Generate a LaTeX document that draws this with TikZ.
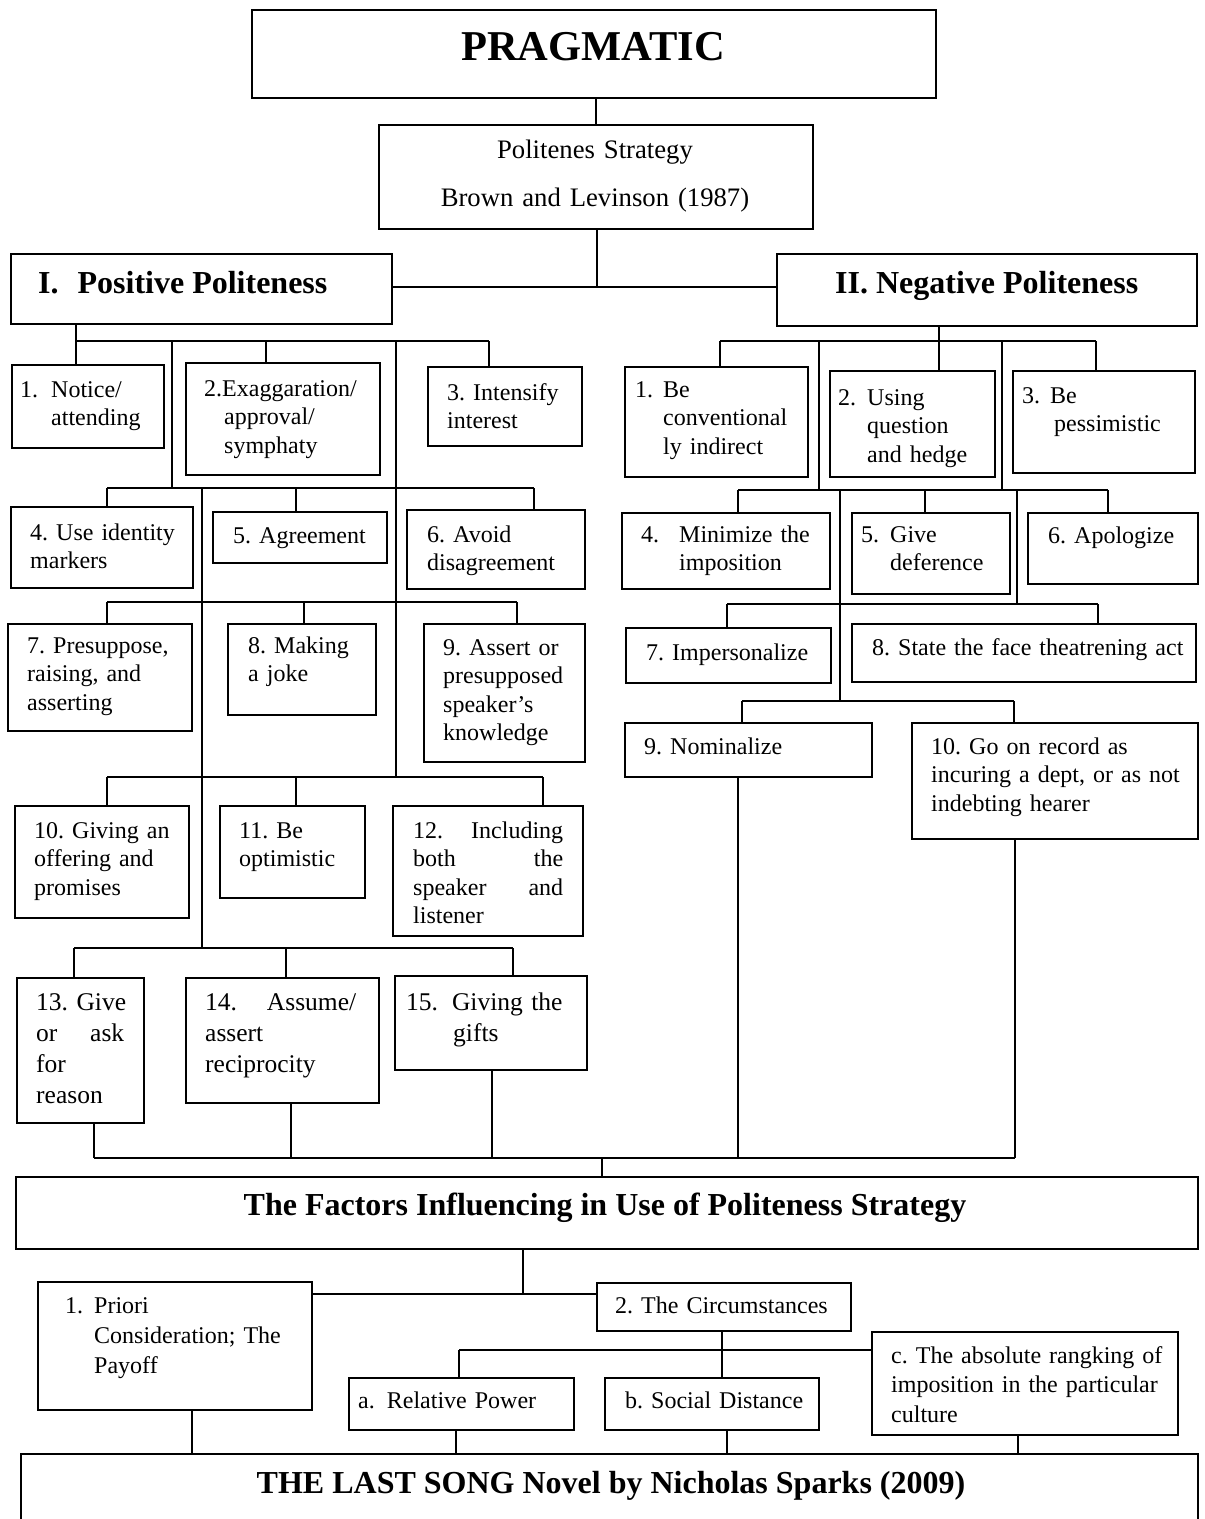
\documentclass[tikz,border=0pt]{standalone}
\usepackage{fontspec}
\setmainfont{Liberation Serif}
\usetikzlibrary{positioning, calc}
\frenchspacing

\tikzset{
  box/.style={draw, line width=1.5pt, rectangle, anchor=north west, inner sep=0pt},
  txt/.style={anchor=base west, inner sep=0pt, align=left, text width=#1,
    font=\fontsize{24}{28.5}\selectfont},
  txt/.default=260pt,
  big/.style={txt=#1, font=\fontsize{25.5}{31}\selectfont},
  big/.default=200pt,
  head/.style={anchor=base west, inner sep=0pt, font=\fontsize{32}{38}\selectfont\bfseries},
  title/.style={anchor=base, inner sep=0pt, font=\fontsize{32}{38}\selectfont\bfseries},
  link/.style={line width=1.5pt},
}
\newcommand{\tikzbox}[5]{\node[box, minimum width=#4pt, minimum height=#5pt] (#1) at (#2,#3) {};}

\begin{document}
\begin{tikzpicture}[x=1pt, y=-1pt]
  \useasboundingbox (0,0) rectangle (1205,1519);
  \clip (0,0) rectangle (1205,1519);

  % boxes
  \tikzbox{prag}{251}{9}{684}{88}
  \tikzbox{pol}{378}{124}{434}{104}
  \tikzbox{posh}{10}{253}{381}{70}
  \tikzbox{negh}{776}{253}{420}{72}

  \tikzbox{p1}{11}{364}{152}{83}
  \tikzbox{p2}{185}{362}{194}{112}
  \tikzbox{p3}{427}{366}{154}{79}
  \tikzbox{p4}{10}{506}{182}{81}
  \tikzbox{p5}{212}{511}{174}{51}
  \tikzbox{p6}{406}{509}{178}{79}
  \tikzbox{p7}{7}{623}{184}{107}
  \tikzbox{p8}{227}{623}{148}{91}
  \tikzbox{p9}{423}{623}{161}{138}
  \tikzbox{p10}{14}{805}{174}{112}
  \tikzbox{p11}{219}{805}{145}{92}
  \tikzbox{p12}{392}{805}{190}{130}
  \tikzbox{p13}{16}{977}{127}{145}
  \tikzbox{p14}{185}{977}{193}{125}
  \tikzbox{p15}{394}{975}{192}{94}

  \tikzbox{n1}{624}{366}{183}{110}
  \tikzbox{n2}{829}{370}{165}{106}
  \tikzbox{n3}{1012}{370}{182}{102}
  \tikzbox{n4}{621}{512}{208}{76}
  \tikzbox{n5}{851}{512}{158}{81}
  \tikzbox{n6}{1027}{512}{170}{71}
  \tikzbox{n7}{625}{627}{205}{55}
  \tikzbox{n8}{851}{623}{344}{58}
  \tikzbox{n9}{624}{722}{247}{54}
  \tikzbox{n10}{911}{722}{286}{116}

  \tikzbox{fac}{15}{1176}{1182}{72}
  \tikzbox{pri}{37}{1281}{274}{128}
  \tikzbox{cir}{596}{1282}{254}{48}
  \tikzbox{ra}{348}{1377}{225}{52}
  \tikzbox{rb}{604}{1377}{214}{52}
  \tikzbox{rc}{871}{1331}{306}{103}
  \tikzbox{last}{20}{1453}{1177}{100}

  % texts
  \node[title, font=\fontsize{42.5}{50}\selectfont\bfseries] (pragt) at (593,60) {PRAGMATIC};
  \node[title, align=center, text width=420pt, font=\fontsize{26.7}{48}\selectfont] (polt) at (595,158)
    {Politenes Strategy\\Brown and Levinson (1987)};
  \node[head] (posht) at (38,293) {I.\hspace{19pt}Positive Politeness};
  \node[head] (neght) at (835,293) {II. Negative Politeness};

  \node[txt] (p1t) at (20,397) {1.\hspace{13pt}Notice/\\\hspace*{31pt}attending};
  \node[txt] (p2t) at (204,396) {2.Exaggaration/\\\hspace*{20pt}approval/\\\hspace*{20pt}symphaty};
  \node[txt] (p3t) at (447,400) {3. Intensify\\interest};
  \node[txt] (p4t) at (30,540) {4. Use identity\\markers};
  \node[txt] (p5t) at (233,543) {5. Agreement};
  \node[txt] (p6t) at (427,542) {6. Avoid\\disagreement};
  \node[txt] (p7t) at (27,653) {7. Presuppose,\\raising, and\\asserting};
  \node[txt] (p8t) at (248,653) {8. Making\\a joke};
  \node[txt] (p9t) at (443,655) {9. Assert or\\presupposed\\speaker’s\\knowledge};
  \node[txt] (p10t) at (34,838) {10. Giving an\\offering and\\promises};
  \node[txt] (p11t) at (239,838) {11. Be\\optimistic};
  \node[txt=150pt] (p12t) at (413,838) {12.\hfill Including\\both\hfill the\\speaker\hfill and\\listener};
  \node[big=88pt] (p13t) at (36,1010) {\mbox{13. Give}\\or\hfill ask\\for\\reason};
  \node[big=151pt] (p14t) at (205,1010) {14.\hfill Assume/\\assert\\reciprocity};
  \node[big] (p15t) at (406,1010) {15.\hspace{14pt}Giving the\\\hspace*{47pt}gifts};

  \node[txt] (n1t) at (635,397) {1.\hspace{10pt}Be\\\hspace*{28pt}conventional\\\hspace*{28pt}ly indirect};
  \node[txt] (n2t) at (838,405) {2.\hspace{11pt}Using\\\hspace*{29pt}question\\\hspace*{29pt}and hedge};
  \node[txt] (n3t) at (1022,403) {3.\hspace{10pt}Be\\\hspace*{32pt}pessimistic};
  \node[txt] (n4t) at (641,542) {4.\hspace{20pt}Minimize the\\\hspace*{38pt}imposition};
  \node[txt] (n5t) at (861,542) {5.\hspace{11pt}Give\\\hspace*{29pt}deference};
  \node[txt] (n6t) at (1048,543) {6. Apologize};
  \node[txt] (n7t) at (646,660) {7. Impersonalize};
  \node[txt=320pt] (n8t) at (872,655) {8. State the face theatrening act};
  \node[txt] (n9t) at (644,754) {9. Nominalize};
  \node[txt] (n10t) at (931,754) {10. Go on record as\\incuring a dept, or as not\\indebting hearer};

  \node[title] (fact) at (605,1215) {The Factors Influencing in Use of Politeness Strategy};
  \node[txt, font=\fontsize{24}{30}\selectfont] (prit) at (65,1313)
    {1.\hspace{11pt}Priori\\\hspace*{29pt}Consideration; The\\\hspace*{29pt}Payoff};
  \node[txt] (cirt) at (615,1313) {2. The Circumstances};
  \node[txt] (rat) at (358,1408) {a.\hspace{12pt}Relative Power};
  \node[txt] (rbt) at (625,1408) {b. Social Distance};
  \node[txt=290pt, font=\fontsize{24}{29.5}\selectfont] (rct) at (891,1363)
    {c. The absolute rangking of\\imposition in the particular\\culture};
  \node[title] (lastt) at (611,1493) {THE LAST SONG Novel by Nicholas Sparks (2009)};

  % top connectors
  \coordinate (hub) at (597,287);
  \draw[link] (prag.south -| pol.north) -- (pol.north);
  \draw[link] (pol.south -| hub) -- (hub);
  \draw[link] (posh.east |- hub) -- (negh.west |- hub);

  % positive politeness
  \coordinate (pa1) at (76,341);
  \coordinate (pa2) at (266,341);
  \coordinate (pa3) at (489,341);
  \coordinate (pt1) at (172,341);
  \coordinate (pt2) at (396,341);
  \coordinate (pb1) at (107,488);
  \coordinate (pb2) at (296,488);
  \coordinate (pb3) at (534,488);
  \coordinate (pt3) at (202,488);
  \coordinate (pc1) at (107,602);
  \coordinate (pc2) at (304,602);
  \coordinate (pc3) at (517,602);
  \coordinate (pd1) at (107,777);
  \coordinate (pd2) at (296,777);
  \coordinate (pd3) at (543,777);
  \coordinate (pe1) at (74,948);
  \coordinate (pe2) at (286,948);
  \coordinate (pe3) at (513,948);

  \draw[link] (posh.south -| pa1) -- (p1.north -| pa1);
  \draw[link] (pa1) -- (pa3);
  \draw[link] (pa2) -- (p2.north -| pa2);
  \draw[link] (pa3) -- (p3.north -| pa3);
  \draw[link] (pt1) -- (pt1 |- pb1);
  \draw[link] (pt2) -- (pt2 |- pd1);

  \draw[link] (pb1) -- (pb3);
  \draw[link] (pb1) -- (p4.north -| pb1);
  \draw[link] (pb2) -- (p5.north -| pb2);
  \draw[link] (pb3) -- (p6.north -| pb3);
  \draw[link] (pt3) -- (pt3 |- pe1);

  \draw[link] (pc1) -- (pc3);
  \draw[link] (pc1) -- (p7.north -| pc1);
  \draw[link] (pc2) -- (p8.north -| pc2);
  \draw[link] (pc3) -- (p9.north -| pc3);

  \draw[link] (pd1) -- (pd3);
  \draw[link] (pd1) -- (p10.north -| pd1);
  \draw[link] (pd2) -- (p11.north -| pd2);
  \draw[link] (pd3) -- (p12.north -| pd3);

  \draw[link] (pe1) -- (pe3);
  \draw[link] (pe1) -- (p13.north -| pe1);
  \draw[link] (pe2) -- (p14.north -| pe2);
  \draw[link] (pe3) -- (p15.north -| pe3);

  % negative politeness
  \coordinate (na1) at (720,341);
  \coordinate (na2) at (939,341);
  \coordinate (na3) at (1096,341);
  \coordinate (nt1) at (819,341);
  \coordinate (nt2) at (1002,341);
  \coordinate (nb1) at (738,490);
  \coordinate (nb2) at (925,490);
  \coordinate (nb3) at (1108,490);
  \coordinate (nt3) at (840,490);
  \coordinate (nt4) at (1017,490);
  \coordinate (nc1) at (727,604);
  \coordinate (nc2) at (1098,604);
  \coordinate (nd1) at (742,701);
  \coordinate (nd2) at (1014,701);

  \draw[link] (negh.south -| na2) -- (n2.north -| na2);
  \draw[link] (na1) -- (na3);
  \draw[link] (na1) -- (n1.north -| na1);
  \draw[link] (na3) -- (n3.north -| na3);
  \draw[link] (nt1) -- (nt1 |- nb1);
  \draw[link] (nt2) -- (nt2 |- nb1);

  \draw[link] (nb1) -- (nb3);
  \draw[link] (nb1) -- (n4.north -| nb1);
  \draw[link] (nb2) -- (n5.north -| nb2);
  \draw[link] (nb3) -- (n6.north -| nb3);
  \draw[link] (nt3) -- (nt3 |- nd1);
  \draw[link] (nt4) -- (nt4 |- nc1);

  \draw[link] (nc1) -- (nc2);
  \draw[link] (nc1) -- (n7.north -| nc1);
  \draw[link] (nc2) -- (n8.north -| nc2);

  \draw[link] (nd1) -- (nd2);
  \draw[link] (nd1) -- (n9.north -| nd1);
  \draw[link] (nd2) -- (n10.north -| nd2);

  % join into the factors
  \coordinate (fb0) at (602,1158);
  \coordinate (fb1) at (94,1158);
  \coordinate (fb2) at (291,1158);
  \coordinate (fb3) at (492,1158);
  \coordinate (fb4) at (738,1158);
  \coordinate (fb5) at (1015,1158);

  \draw[link] (fb1) -- (fb5);
  \draw[link] (p13.south -| fb1) -- (fb1);
  \draw[link] (p14.south -| fb2) -- (fb2);
  \draw[link] (p15.south -| fb3) -- (fb3);
  \draw[link] (n9.south -| fb4) -- (fb4);
  \draw[link] (n10.south -| fb5) -- (fb5);
  \draw[link] (fb0) -- (fac.north -| fb0);

  % factors
  \coordinate (fc0) at (523,1294);
  \coordinate (fd0) at (722,1350);
  \coordinate (fd1) at (459,1350);
  \coordinate (fe1) at (192,1453);
  \coordinate (fe2) at (456,1453);
  \coordinate (fe3) at (727,1453);
  \coordinate (fe4) at (1018,1453);

  \draw[link] (fac.south -| fc0) -- (fc0);
  \draw[link] (pri.east |- fc0) -- (cir.west |- fc0);
  \draw[link] (cir.south -| fd0) -- (rb.north -| fd0);
  \draw[link] (fd1) -- (rc.west |- fd1);
  \draw[link] (fd1) -- (ra.north -| fd1);

  \draw[link] (pri.south -| fe1) -- (fe1);
  \draw[link] (ra.south -| fe2) -- (fe2);
  \draw[link] (rb.south -| fe3) -- (fe3);
  \draw[link] (rc.south -| fe4) -- (fe4);
\end{tikzpicture}
\end{document}
